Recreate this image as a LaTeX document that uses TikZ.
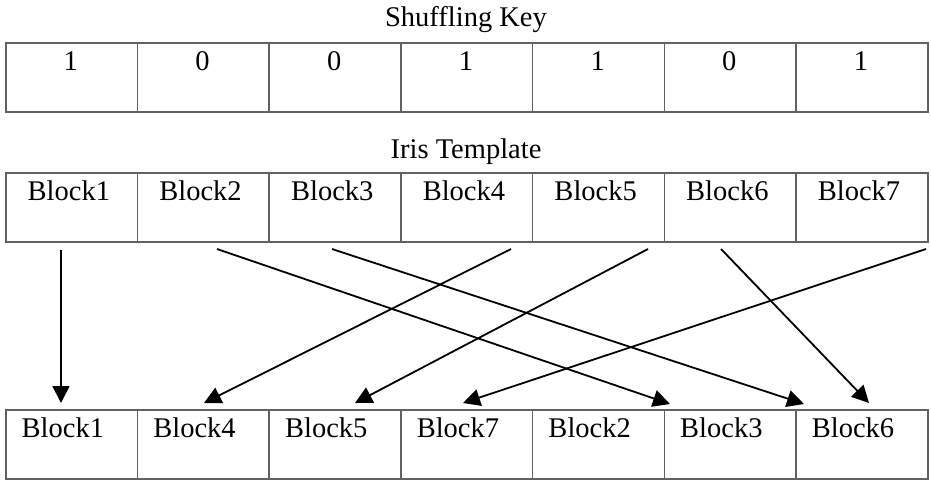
\documentclass[tikz,border=0pt]{standalone}
\usepackage{fontspec}
\setmainfont{Liberation Serif}
\usetikzlibrary{arrows.meta}
\begin{document}
\begin{tikzpicture}[x=1pt,y=-1pt,
  cellbox/.style={draw=black!62,line width=1.6pt,minimum width=131.7pt,minimum height=69pt,inner sep=0pt,anchor=north west},
  celltext/.style={anchor=base,inner sep=0pt,font=\fontsize{28.5}{32}\selectfont},
  title/.style={anchor=base,inner sep=0pt,font=\fontsize{28.5}{32}\selectfont},
  shuffle/.style={line width=1.8pt,-{Triangle[length=17pt,width=17pt]}}]
  \useasboundingbox (0,0) rectangle (931,488);

  % titles
  \node[title] (keytitle) at (466,26) {Shuffling Key};
  \node[title] (iristitle) at (466,158) {Iris Template};

  % shuffling key row
  \foreach \v [count=\i] in {1,0,0,1,1,0,1} {
    \node[cellbox] (k\i) at ({5+131.7*(\i-1)},42) {};
    \node[celltext] (kv\i) at ({5+131.7*(\i-0.5)},70) {\v};
  }

  % iris template row
  \foreach \i in {1,...,7} {
    \node[cellbox] (t\i) at ({5+131.7*(\i-1)},172) {};
    \node[celltext] (tv\i) at ({3+131.7*(\i-0.5)},200) {Block\i};
  }

  % shuffled row
  \foreach \b [count=\i] in {1,4,5,7,2,3,6} {
    \node[cellbox] (s\i) at ({5+131.7*(\i-1)},409) {};
    \node[celltext] (sv\i) at ({-3+131.7*(\i-0.5)},437) {Block\b};
  }

  % arrow end points
  \coordinate (a1) at (61,250);  \coordinate (b1) at (61,403);
  \coordinate (a2) at (217,249); \coordinate (b2) at (670,404);
  \coordinate (a3) at (332,249); \coordinate (b3) at (804,404);
  \coordinate (a4) at (511,249); \coordinate (b4) at (204,403);
  \coordinate (a5) at (648,249); \coordinate (b5) at (355,403);
  \coordinate (a6) at (721,249); \coordinate (b6) at (869,403);
  \coordinate (a7) at (926,249); \coordinate (b7) at (463,403);

  \foreach \i in {1,...,7} \draw[shuffle] (a\i) -- (b\i);
\end{tikzpicture}
\end{document}
